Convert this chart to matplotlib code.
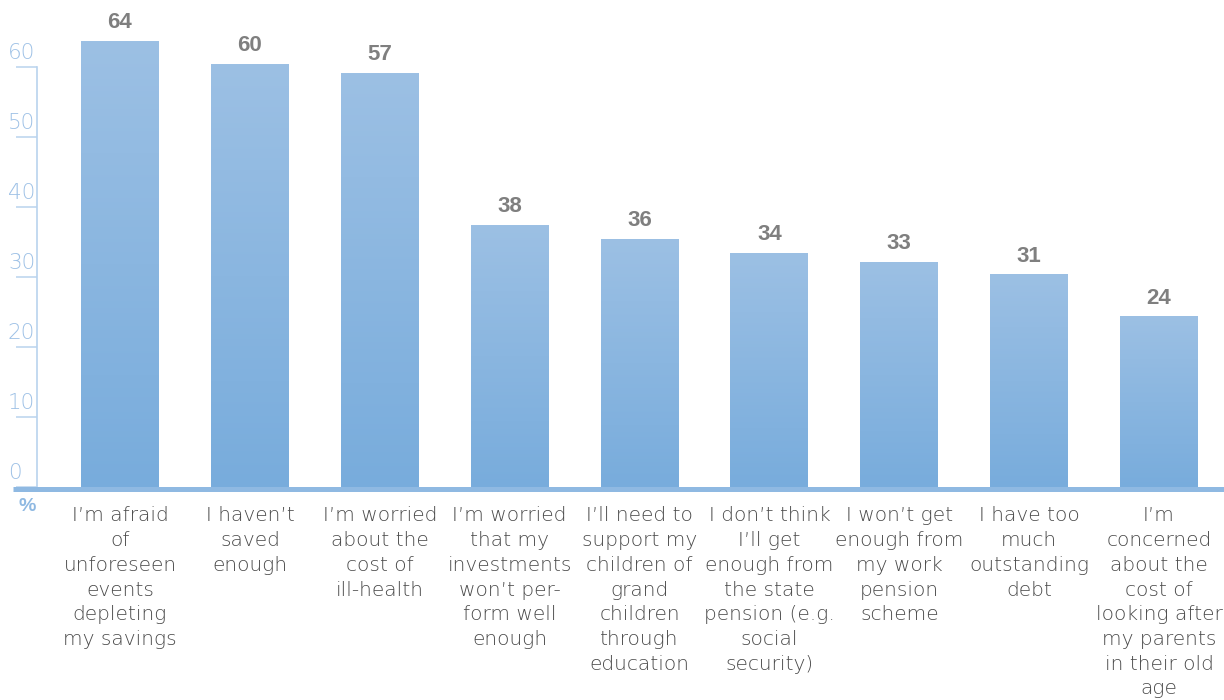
import numpy as np
import matplotlib
matplotlib.use("Agg")
import matplotlib.pyplot as plt
from matplotlib.colors import LinearSegmentedColormap

# Datos del gráfico
categorias = [
    "I’m afraid\nof\nunforeseen\nevents\ndepleting\nmy savings",
    "I haven’t\nsaved\nenough",
    "I’m worried\nabout the\ncost of\nill-health",
    "I’m worried\nthat my\ninvestments\nwon’t per-\nform well\nenough",
    "I’ll need to\nsupport my\nchildren of\ngrand\nchildren\nthrough\neducation",
    "I don’t think\nI’ll get\nenough from\nthe state\npension (e.g.\nsocial\nsecurity)",
    "I won’t get\nenough from\nmy work\npension\nscheme",
    "I have too\nmuch\noutstanding\ndebt",
    "I’m\nconcerned\nabout the\ncost of\nlooking after\nmy parents\nin their old\nage",
]
valores = [64, 60, 57, 38, 36, 34, 33, 31, 24]
# alturas de las barras tal como se ven en el gráfico
alturas = [63.6, 60.4, 59.1, 37.3, 35.4, 33.3, 32.1, 30.3, 24.3]
y_ticks = [0, 10, 20, 30, 40, 50, 60]

plt.rcParams['font.family'] = ['DejaVu Sans']

fig = plt.figure(figsize=(12.24, 7.0), dpi=100)
ax = fig.add_axes([37 / 1224, 213 / 700, 1 - 37 / 1224, 68 * 7.0 / 700])

x = np.arange(len(valores))
ancho = 0.6

# Degradado vertical en cada barra
cmap = LinearSegmentedColormap.from_list("azul", ["#78acdc", "#9cc0e4"])
grad = np.linspace(0, 1, 256).reshape(-1, 1)
for xi, h, v in zip(x, alturas, valores):
    ax.imshow(grad, extent=(xi - ancho / 2, xi + ancho / 2, 0, h), origin="lower",
              cmap=cmap, aspect="auto", zorder=2)
    ax.text(xi, h + 1.2, str(v), ha="center", va="bottom", fontsize=16,
            fontweight="bold", color="#7f7f7f", family=['Liberation Sans', 'DejaVu Sans'])

ax.set_xlim(-0.639, 8.5)
ax.set_ylim(0, 68)

# Ejes y spines
for s in ["top", "right", "bottom"]:
    ax.spines[s].set_visible(False)
ax.spines["left"].set_color("#b9d3ee")
ax.spines["left"].set_linewidth(1.2)
ax.spines["left"].set_bounds(0, 60)

ax.set_yticks(y_ticks)
ax.set_yticklabels([])
ax.tick_params(axis="y", length=15, width=1.1, color="#b9d3ee", direction="out")
for t in y_ticks:
    ax.text(-0.0245, t + 0.6, str(t), transform=ax.get_yaxis_transform(),
            ha="left", va="bottom", fontsize=15.5, color="#9ec1e6", fontweight="light")

ax.set_xticks(x)
ax.set_xticklabels(categorias, fontsize=14.5, color="#4a4a4a", linespacing=1.38,
                   fontweight="light")
ax.tick_params(axis="x", length=0, pad=14)

# Línea base gruesa
ax.plot([-0.824, 8.5], [-0.3, -0.3], color="#8fb9e2", linewidth=3.6,
        clip_on=False, solid_capstyle="butt", zorder=3)
ax.text(-0.715, -1.6, "%", ha="center", va="top", fontsize=14, fontweight="bold",
        color="#8fb9e2", family=['Liberation Sans', 'DejaVu Sans'])

fig.savefig("out.png", dpi=100)
